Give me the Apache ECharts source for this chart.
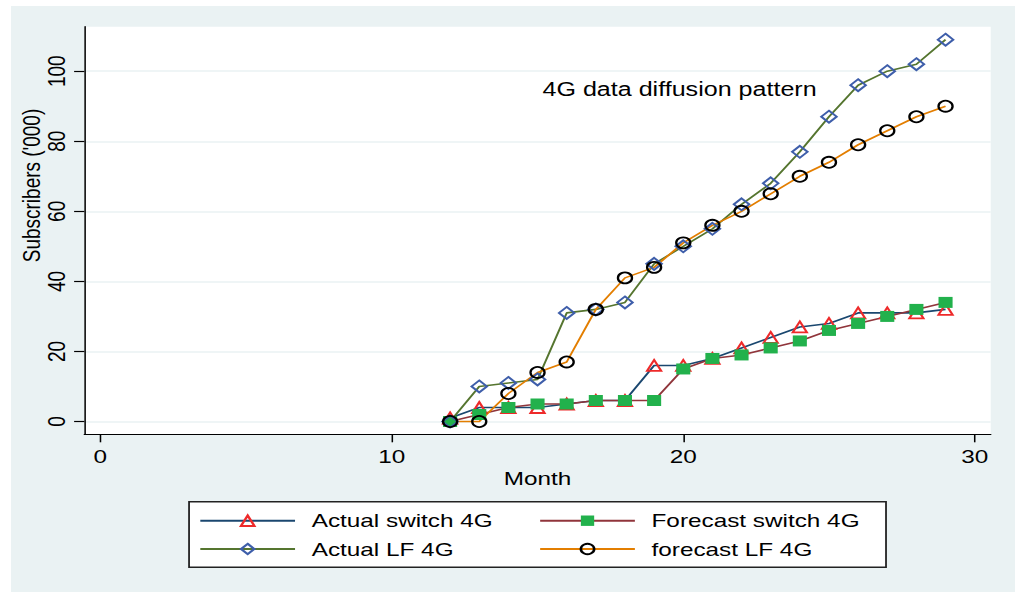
<!DOCTYPE html>
<html>
<head>
<meta charset="utf-8">
<script src="https://cdn.jsdelivr.net/npm/echarts@6/dist/echarts.min.js"></script>
<style>
html, body { margin: 0; padding: 0; background: #ffffff; overflow: hidden; }
#wrap { width: 1015px; height: 592px; overflow: hidden; }
#chart { width: 793px; height: 592px; transform: scaleX(1.28); transform-origin: 0 0; }
</style>
</head>
<body>
<div id="wrap"><div id="chart"></div></div>
<script>
// ---- data ----
const months = [12, 13, 14, 15, 16, 17, 18, 19, 20, 21, 22, 23, 24, 25, 26, 27, 28, 29];
const actualSwitch4G   = [1, 4, 4, 4, 5, 6, 6, 16, 16, 18, 21, 24, 27, 28, 31, 31, 31, 32];
const forecastSwitch4G = [0, 2, 4, 5, 5, 6, 6, 6, 15, 18, 19, 21, 23, 26, 28, 30, 32, 34];
const actualLF4G       = [0, 10, 11, 12, 31, 32, 34, 45, 50, 55, 62, 68, 77, 87, 96, 100, 102, 109];
const forecastLF4G     = [0, 0, 8, 14, 17, 32, 41, 44, 51, 56, 60, 65, 70, 74, 79, 83, 87, 90];
const xTicks = [0, 10, 20, 30];
const yTicks = [0, 20, 40, 60, 80, 100];
const seriesNames = ['Actual switch 4G', 'Forecast switch 4G', 'Actual LF 4G', 'forecast LF 4G'];
const annotationText = '4G data diffusion pattern';
const annotationAt = [15.17, 94.7];

const FONT = '"Liberation Sans", Arial, Helvetica, sans-serif';

function makeSeries(name, values, symbol, size, lineColor, fill, border) {
  return {
    name: name,
    type: 'line',
    data: months.map((m, i) => [m, values[i]]),
    symbol: symbol,
    symbolSize: size,
    showSymbol: true,
    showAllSymbol: true,
    lineStyle: { color: lineColor, width: 1.6 },
    itemStyle: { color: fill, borderColor: border, borderWidth: fill === 'rgba(0,0,0,0)' ? 1.8 : 0 },
    emphasis: { disabled: true },
    silent: true
  };
}

const legendCommon = {
  orient: 'horizontal',
  left: 155.5,
  padding: 0,
  itemWidth: 74,
  itemHeight: 13,
  itemGap: 14.5,
  selectedMode: false,
  textStyle: { fontSize: 19, color: '#000', fontFamily: FONT, width: 163, padding: [0, 0, 0, 8], lineHeight: 20 }
};

const chart = echarts.init(document.getElementById('chart'), null, { renderer: 'svg' });

const option = {
  animation: false,
  backgroundColor: '#ffffff',
  textStyle: { fontFamily: FONT },
  grid: {
    left: 65.9, right: 19, top: 26.7, bottom: 157.7,
    show: true, backgroundColor: '#ffffff', borderWidth: 0,
    containLabel: false, outerBoundsMode: 'none'
  },
  xAxis: {
    type: 'value',
    min: -0.55, max: 30.55,
    name: 'Month',
    nameLocation: 'middle',
    nameGap: 35,
    nameMoveOverlap: false,
    nameTextStyle: { fontSize: 19, color: '#000', fontFamily: FONT },
    axisLine: { show: true, onZero: false, lineStyle: { color: '#000', width: 1.2 } },
    axisTick: { show: true, length: 8, customValues: xTicks, lineStyle: { color: '#000', width: 1.2 } },
    axisLabel: { customValues: xTicks, fontSize: 19, color: '#000', margin: 13, fontFamily: FONT },
    splitLine: { show: false }
  },
  yAxis: {
    type: 'value',
    min: -3.65, max: 112.7,
    name: "Subscribers ('000)",
    nameLocation: 'middle',
    nameGap: 32,
    nameMoveOverlap: false,
    nameTextStyle: { fontSize: 19, color: '#000', fontFamily: FONT, padding: [0, 0, 0, 90] },
    axisLine: { show: true, onZero: false, lineStyle: { color: '#000', width: 1.2 } },
    axisTick: { show: true, length: 8, customValues: yTicks, lineStyle: { color: '#000', width: 1.2 } },
    axisLabel: { customValues: yTicks, rotate: 90, fontSize: 19, color: '#000', margin: 12, fontFamily: FONT },
    splitLine: { show: true, lineStyle: { color: '#eaf2f3', width: 1.6 } }
  },
  legend: [
    Object.assign({}, legendCommon, { top: 510.7, data: [seriesNames[0], seriesNames[1]] }),
    Object.assign({}, legendCommon, { top: 539, data: [seriesNames[2], seriesNames[3]] })
  ],
  graphic: [
    { id: 'bg', type: 'rect', z: -100, silent: true,
      shape: { x: 8.6, y: 6, width: 800, height: 600 },
      style: { fill: '#eaf2f3' } },
    { id: 'legendBox', type: 'rect', z: -50, silent: true,
      shape: { x: 147.7, y: 501.7, width: 544.5, height: 65.6 },
      style: { fill: '#ffffff', stroke: '#222', lineWidth: 1.4 } }
  ],
  series: [
    makeSeries(seriesNames[0], actualSwitch4G, 'triangle', 11, '#1a476f', 'rgba(0,0,0,0)', '#ee2a2a'),
    makeSeries(seriesNames[1], forecastSwitch4G, 'rect', 11, '#90353b', '#22b14c', '#22b14c'),
    makeSeries(seriesNames[2], actualLF4G, 'diamond', 12, '#55752f', 'rgba(0,0,0,0)', '#3e5eaa'),
    makeSeries(seriesNames[3], forecastLF4G, 'circle', 11, '#e37e00', 'rgba(0,0,0,0)', '#000000')
  ]
};

chart.setOption(option);

const p = chart.convertToPixel({ gridIndex: 0 }, annotationAt);
chart.setOption({
  graphic: [
    { id: 'annotation', type: 'text', z: 10, silent: true,
      x: p[0], y: p[1],
      style: { text: annotationText, fontSize: 19.6, fill: '#000', fontFamily: FONT, align: 'left', verticalAlign: 'middle' } }
  ]
});
</script>
</body>
</html>
